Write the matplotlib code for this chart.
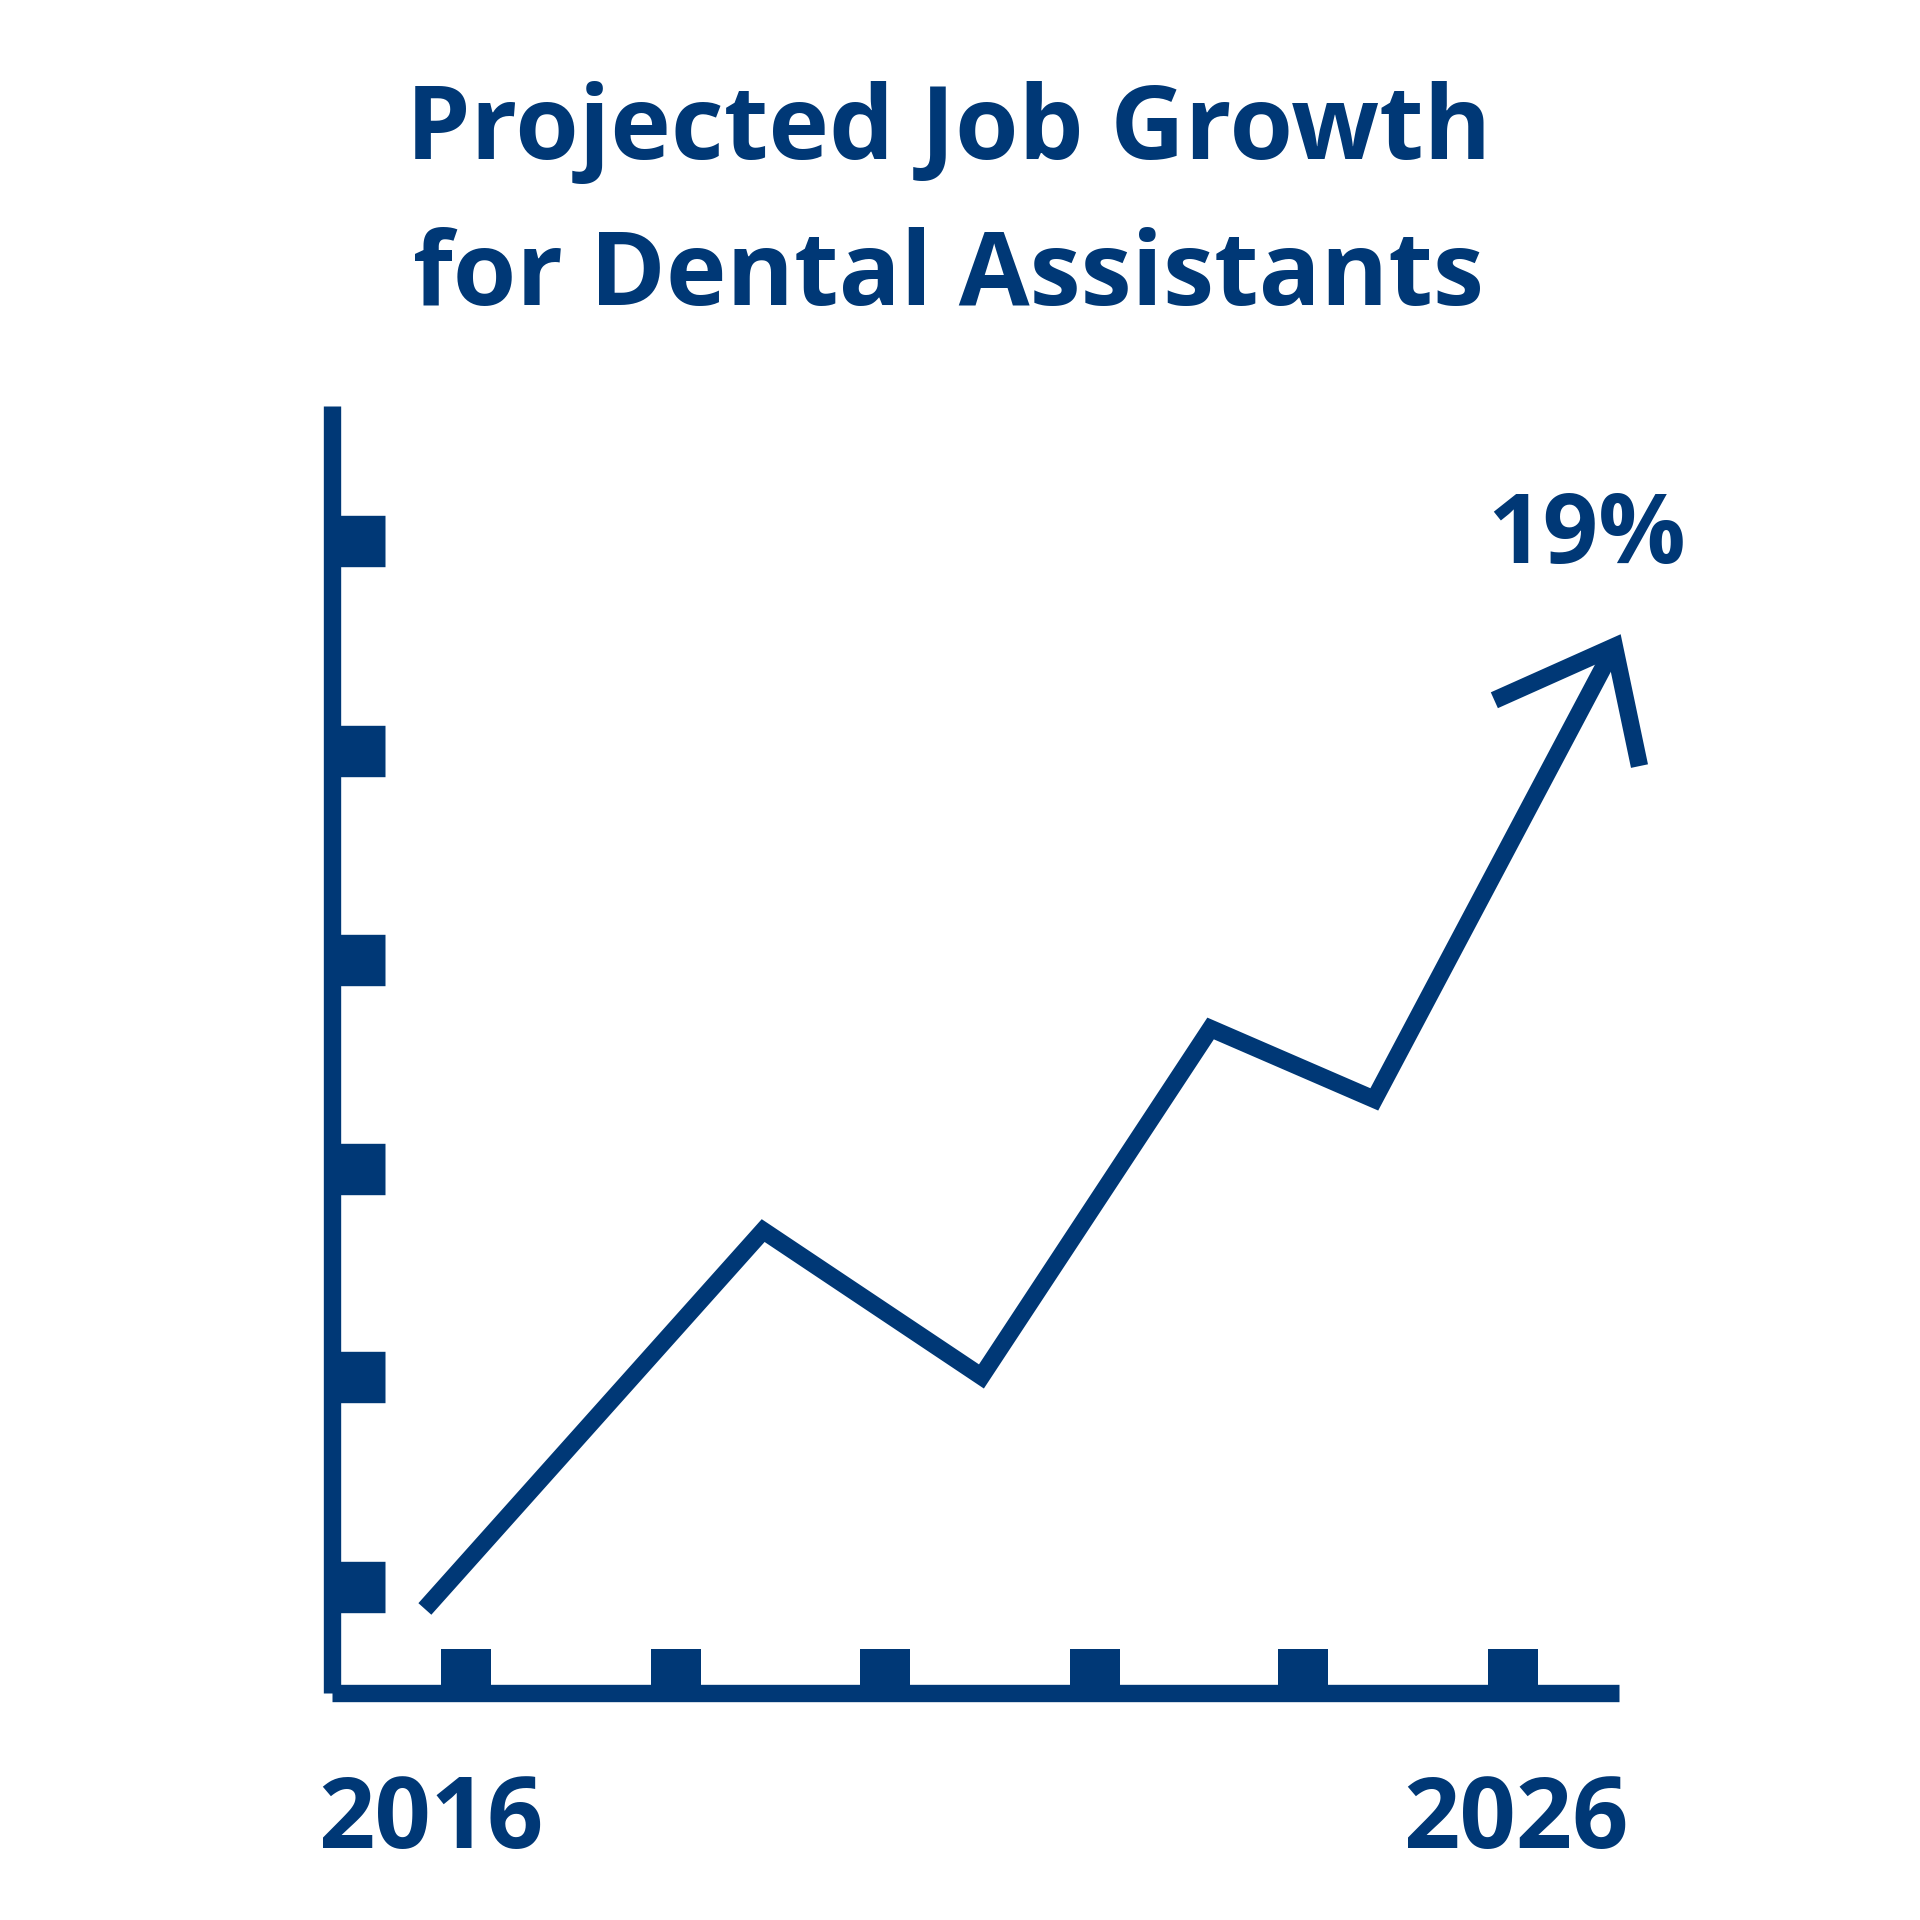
import matplotlib.pyplot as plt

# data (year, growth %)
years = [2016, 2019.1, 2021.1, 2023.2, 2024.7, 2026.9]
growth = [0.0, 7.47, 4.59, 11.46, 10.06, 19.0]
head_x = [2025.8, 2026.9, 2027.13]
head_y = [17.94, 19.0, 16.64]
xticks = [2016.38, 2018.30, 2020.22, 2022.14, 2024.05, 2025.97]
yticks = [0.435, 4.57, 8.68, 12.81, 16.94, 21.08]
title_lines = ["Projected Job Growth", "for Dental Assistants"]
end_label = "19%"
year_labels = ["2016", "2026"]

navy = "#003876"
plt.rcParams['font.family'] = ['Open Sans', 'DejaVu Sans']

fig = plt.figure(figsize=(19.2, 19.2), dpi=100)
ax = fig.add_axes([0.1728, 0.118, 0.6703, 0.6703])
ax.set_xlim(2015.147, 2026.94)
ax.set_ylim(-1.668, 23.74)

ax.plot(years, growth, color=navy, lw=12.5, solid_joinstyle='miter',
        solid_capstyle='butt', clip_on=False)
ax.plot(head_x, head_y, color=navy, lw=12.5, solid_joinstyle='miter',
        solid_capstyle='butt', clip_on=False)

for s in ['top', 'right']:
    ax.spines[s].set_visible(False)
for s in ['left', 'bottom']:
    ax.spines[s].set_linewidth(12.5)
    ax.spines[s].set_color(navy)
    ax.spines[s].set_capstyle('butt')
ax.spines['left'].set_bounds(-1.668, 23.74)

ax.set_xticks(xticks)
ax.set_yticks(yticks)
ax.tick_params(axis='x', direction='in', length=31.7, width=36, color=navy, labelbottom=False)
ax.tick_params(axis='y', direction='in', length=37.9, width=37, color=navy, labelleft=False)

fig.text(0.494, 0.917, title_lines[0], ha='center', va='baseline', fontsize=74,
         fontweight='bold', color=navy)
fig.text(0.494, 0.841, title_lines[1], ha='center', va='baseline', fontsize=74,
         fontweight='bold', color=navy)
fig.text(1296 / 1568, 1 - 460 / 1568, end_label, ha='center', va='baseline',
         fontsize=70, fontweight='bold', color=navy)
fig.text(352 / 1568, 1 - 1509 / 1568, year_labels[0], ha='center', va='baseline',
         fontsize=71, fontweight='bold', color=navy)
fig.text(1238 / 1568, 1 - 1509 / 1568, year_labels[1], ha='center', va='baseline',
         fontsize=71, fontweight='bold', color=navy)

fig.savefig('out.png', dpi=100, facecolor='white')
